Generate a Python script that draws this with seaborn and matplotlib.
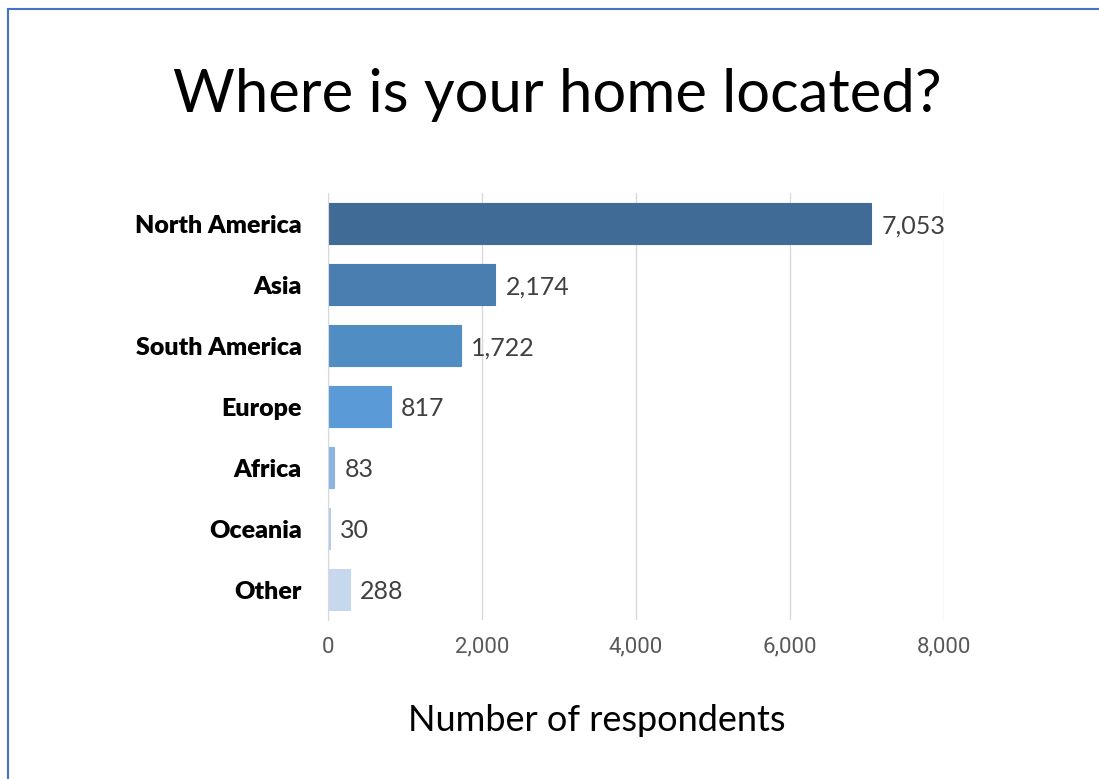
import matplotlib
matplotlib.use('Agg')
import matplotlib.pyplot as plt
import seaborn as sns
import pandas as pd
from matplotlib.patches import Rectangle

regions = ['North America', 'Asia', 'South America', 'Europe', 'Africa', 'Oceania', 'Other']
respondents = [7053, 2174, 1722, 817, 83, 30, 288]
bar_colors = ['#3F6B96', '#4A7EB0', '#508DC3', '#5A9BD7', '#8BB2E1', '#B2CCEB', '#C6D8EE']
x_ticks = [0, 2000, 4000, 6000, 8000]


def draw_graph(df):
    sns.set_style('white')
    plt.rcParams['font.family'] = ['Lato', 'DejaVu Sans']

    fig = plt.figure(figsize=(10.99, 7.79), dpi=100)
    ax = fig.add_axes([0.2985, 0.2041, 0.5605, 0.5481])

    sns.barplot(data=df, x='count', y='region', hue='region', palette=bar_colors,
                legend=False, width=0.66, ax=ax, saturation=1)
    # thin edge in the bar colour so the tiny Oceania bar still shows
    for bar in ax.patches:
        bar.set_edgecolor(bar.get_facecolor())
        bar.set_linewidth(0.8)

    ax.set_xlim(0, 8000)
    ax.set_ylim(6.5, -0.5)
    ax.set_xticks(x_ticks)
    ax.set_xticklabels([f'{t:,}' for t in x_ticks], fontsize=16, color='#595959',
                       family=['Roboto', 'DejaVu Sans'])
    ax.tick_params(axis='x', length=0, pad=12)
    ax.tick_params(axis='y', length=0, pad=19)
    for lab in ax.get_yticklabels():
        lab.set_fontsize(18)
        lab.set_fontweight('heavy')
        lab.set_color('black')
    ax.grid(axis='x', color='#D9D9D9', linewidth=1)
    ax.set_axisbelow(True)
    for s in ['top', 'right', 'bottom']:
        ax.spines[s].set_visible(False)
    ax.spines['left'].set_color('#D9D9D9')
    ax.set_ylabel('')
    ax.set_xlabel('')

    for i, v in enumerate(df['count']):
        ax.text(v + 130, i + 0.04, f'{v:,}', va='center', ha='left', fontsize=18, color='#404040')

    fig.text(0.507, 0.878, 'Where is your home located?', ha='center', va='center',
             fontsize=43, color='black')
    fig.text(0.543, 0.0757, 'Number of respondents', ha='center', va='center',
             fontsize=26, color='black')

    fig.patches.append(Rectangle((8 / 1099, -0.1), 1.2, 1 - 9 / 779 + 0.1,
                                 transform=fig.transFigure, fill=False,
                                 edgecolor='#4472C4', linewidth=1.5))

    fig.savefig('out.png', dpi=100)


def main():
    df = pd.DataFrame({'region': regions, 'count': respondents})
    draw_graph(df)


if __name__ == '__main__':
    main()
